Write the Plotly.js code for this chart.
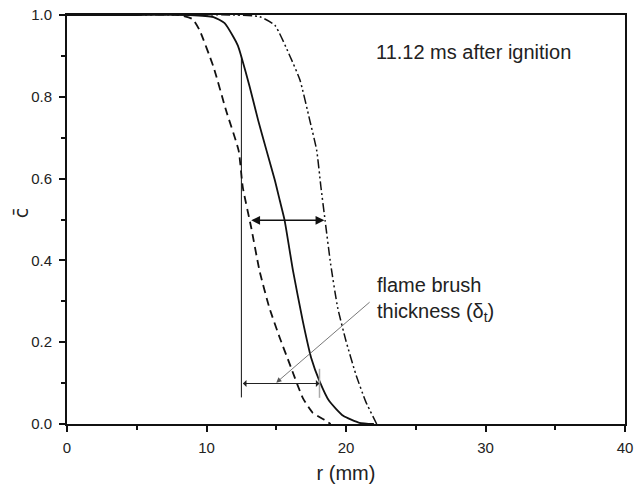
<!DOCTYPE html>
<html>
<head>
<meta charset="utf-8">
<script src="https://cdn.plot.ly/plotly-3.0.1.min.js"></script>
<style>html,body{margin:0;padding:0;background:#fff;}#chart{width:634px;height:485px;}</style>
</head>
<body>
<div id="chart"></div>
<script>
// Solid curve (11.12 ms, mean)
const rSolid = [0, 5, 8.8, 10.5, 11.3, 11.9, 12.25, 12.5, 13.1, 13.7, 14.3, 14.9, 15.25, 15.6, 16.2, 16.9, 17.5, 18.1, 18.8, 19.8, 20.96, 22];
const cSolid = [1, 1, 1.0, 0.995, 0.98, 0.948, 0.925, 0.898, 0.824, 0.743, 0.669, 0.596, 0.547, 0.498, 0.375, 0.252, 0.162, 0.105, 0.056, 0.02, 0.003, 0];
// Dashed curve
const rDash = [0, 8.0, 9.0, 9.5, 10.5, 11.4, 12.3, 12.6, 13.2, 13.8, 14.5, 15.25, 15.96, 16.9, 17.6, 18.6, 18.9];
const cDash = [1, 1.0, 0.99, 0.963, 0.873, 0.767, 0.669, 0.579, 0.481, 0.375, 0.285, 0.211, 0.147, 0.064, 0.028, 0.007, 0];
// Dash-dot-dot curve
const rDDot = [0, 12, 13.8, 14.9, 16.0, 16.7, 17.4, 17.9, 18.2, 18.5, 18.9, 19.4, 20.0, 20.7, 21.4, 22.2];
const cDDot = [1, 1, 0.996, 0.975, 0.898, 0.841, 0.743, 0.669, 0.58, 0.498, 0.391, 0.285, 0.203, 0.122, 0.056, 0];

const xTicks = [0, 10, 20, 30, 40];
const yTicks = [0.0, 0.2, 0.4, 0.6, 0.8, 1.0];
const yTickText = ['0.0', '0.2', '0.4', '0.6', '0.8', '1.0'];

const txtFont = {family: 'Liberation Sans, Arial, sans-serif', size: 20, color: '#222'};

const traces = [
  {x: rDash, y: cDash, mode: 'lines', line: {color: '#111', width: 1.8, dash: '8px,5px', shape: 'spline', smoothing: 0.5}, hoverinfo: 'none'},
  {x: rDDot, y: cDDot, mode: 'lines', line: {color: '#111', width: 1.5, dash: '9px,3px,2px,3px,2px,3px', shape: 'spline', smoothing: 0.5}, hoverinfo: 'none'},
  {x: rSolid, y: cSolid, mode: 'lines', line: {color: '#111', width: 1.8, shape: 'spline', smoothing: 0.5}, hoverinfo: 'none'}
];

const axisCommon = {
  showgrid: false, zeroline: false, showline: true, linecolor: '#111', linewidth: 2,
  mirror: true, ticks: 'outside', ticklen: 6, tickwidth: 2, tickcolor: '#111',
  tickfont: {family: 'Liberation Sans, Arial, sans-serif', size: 15, color: '#222'}
};

const layout = {
  width: 634, height: 485,
  margin: {l: 66.5, r: 8.5, t: 15, b: 61},
  paper_bgcolor: '#fff', plot_bgcolor: '#fff',
  showlegend: false,
  xaxis: Object.assign({}, axisCommon, {
    range: [0, 40], tickvals: xTicks, ticktext: xTicks.map(String), ticklabelstandoff: 3,
    minor: {tickvals: [5, 15, 25, 35], ticklen: 4, tickwidth: 2, tickcolor: '#111', ticks: 'outside'},
    title: {text: 'r (mm)', font: txtFont, standoff: 11}
  }),
  yaxis: Object.assign({}, axisCommon, {
    range: [0, 1], tickvals: yTicks, ticktext: yTickText, ticklabelstandoff: 4,
    minor: {tickvals: [0.1, 0.3, 0.5, 0.7, 0.9], ticklen: 4, tickwidth: 2, tickcolor: '#111', ticks: 'outside'}
  }),
  shapes: [
    {type: 'line', xref: 'x', yref: 'y', x0: 12.5, x1: 12.5, y0: 0.065, y1: 0.9, line: {color: '#111', width: 1}},
    {type: 'line', xref: 'x', yref: 'y', x0: 18.1, x1: 18.1, y0: 0.064, y1: 0.135, line: {color: '#aaa', width: 1.5}}
  ],
  annotations: [
    {x: 18.45, y: 0.498, ax: 13.1, ay: 0.498, xref: 'x', yref: 'y', axref: 'x', ayref: 'y', text: '', showarrow: true,
     arrowside: 'end+start', arrowhead: 2, arrowsize: 1.1, arrowwidth: 1.6, arrowcolor: '#111'},
    {x: 18.1, y: 0.099, ax: 12.5, ay: 0.099, xref: 'x', yref: 'y', axref: 'x', ayref: 'y', text: '', showarrow: true,
     arrowside: 'end+start', arrowhead: 1, arrowsize: 1.2, arrowwidth: 1, arrowcolor: '#222'},
    {x: 15.0, y: 0.101, ax: 21.8, ay: 0.301, xref: 'x', yref: 'y', axref: 'x', ayref: 'y', text: '', showarrow: true,
     arrowhead: 2, arrowsize: 1.3, arrowwidth: 0.8, arrowcolor: '#555'},
    {x: 22.0, y: 0.91, xref: 'x', yref: 'y', text: '11.12 ms after ignition', showarrow: false,
     xanchor: 'left', yanchor: 'middle', font: txtFont},
    {x: 22.1, y: 0.305, xref: 'x', yref: 'y', text: 'flame brush<br>thickness (\u03b4<sub>t</sub>)', showarrow: false,
     xanchor: 'left', yanchor: 'middle', align: 'left', font: txtFont},
    {x: -0.081, y: 0.515, xref: 'paper', yref: 'paper', text: 'c\u0304', showarrow: false, textangle: -90,
     xanchor: 'center', yanchor: 'middle', font: {family: 'DejaVu Sans, sans-serif', size: 19, color: '#222'}}
  ]
};

Plotly.newPlot('chart', traces, layout, {staticPlot: true, displayModeBar: false});
</script>
</body>
</html>
